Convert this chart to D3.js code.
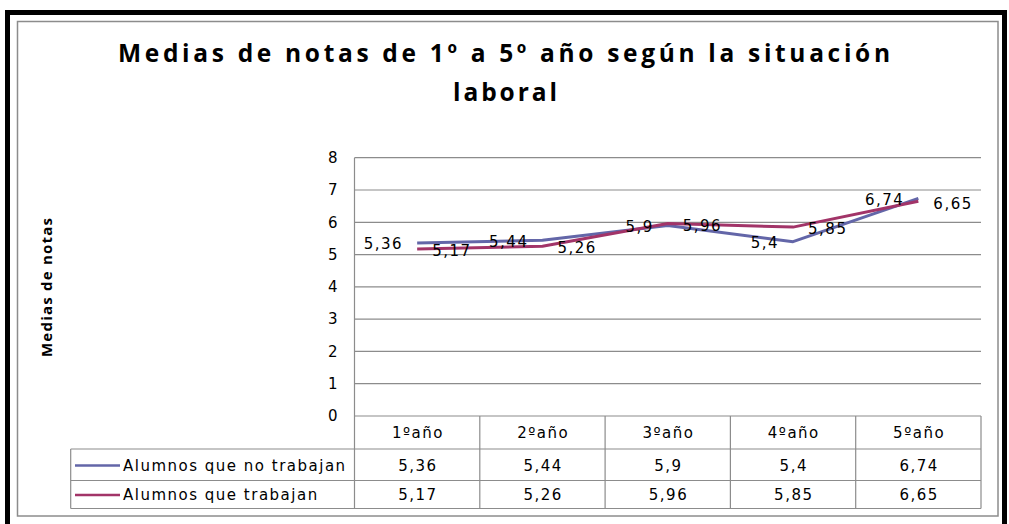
<!DOCTYPE html>
<html><head><meta charset="utf-8">
<script src="https://cdn.jsdelivr.net/npm/d3@7"></script>
<style>
html,body{margin:0;padding:0;background:#fff;}
svg{display:block;}
</style></head>
<body>
<svg id="chart" width="1009" height="524"></svg>
<script>
const categories = ["1ºaño","2ºaño","3ºaño","4ºaño","5ºaño"];
const seriesNames = ["Alumnos que no trabajan","Alumnos que trabajan"];
const noTrabajan = [5.36, 5.44, 5.9, 5.4, 6.74];
const trabajan = [5.17, 5.26, 5.96, 5.85, 6.65];
const yTicks = [0,1,2,3,4,5,6,7,8];
const seriesColors = ["#6366A8", "#A23468"];
const titleLines = ["Medias de notas de 1º a 5º año según la situación", "laboral"];
const yTitle = "Medias de notas";

const series = [
  {name: seriesNames[0], values: noTrabajan, color: seriesColors[0], side: "left"},
  {name: seriesNames[1], values: trabajan, color: seriesColors[1], side: "right"}
];

const svg = d3.select("#chart");
const fmt = v => String(v).replace(".", ",");

// frames
svg.append("rect").attr("x",7.5).attr("y",12.5).attr("width",997).attr("height",520)
  .attr("fill","none").attr("stroke","#000").attr("stroke-width",5);
svg.append("rect").attr("x",17.5).attr("y",21.5).attr("width",980.5).attr("height",494.5)
  .attr("fill","#fff").attr("stroke","#8c8c8c").attr("stroke-width",1.5);

const pL = 354.5, pR = 981, pT = 157.7, pB = 416;
const x = d3.scaleBand().domain(categories).range([pL, pR]);
const y = d3.scaleLinear().domain([0, 8]).range([pB, pT]);

// title
const tfont = "'Open Sans', 'DejaVu Sans', sans-serif";
svg.append("text").attr("x",504).attr("y",62).attr("text-anchor","middle")
  .attr("font-family",tfont).attr("font-weight","bold").attr("font-size",24.5)
  .attr("textLength",772).attr("lengthAdjust","spacing")
  .attr("fill","#000").text(titleLines[0]);
svg.append("text").attr("x",505).attr("y",100.5).attr("text-anchor","middle")
  .attr("font-family",tfont).attr("font-weight","bold").attr("font-size",24.5)
  .attr("textLength",104).attr("lengthAdjust","spacing")
  .attr("fill","#000").text(titleLines[1]);

// y title
svg.append("text").attr("transform","translate(52,287.5) rotate(-90)")
  .attr("text-anchor","middle").attr("font-family",tfont).attr("font-weight","bold")
  .attr("font-size",15).attr("textLength",139).attr("lengthAdjust","spacing")
  .attr("fill","#000").text(yTitle);

const gridColor = "#8c8c8c";
// gridlines
svg.append("g").selectAll("line").data(yTicks).join("line")
  .attr("x1",pL).attr("x2",pR)
  .attr("y1",d=>y(d)).attr("y2",d=>y(d))
  .attr("stroke",gridColor).attr("stroke-width",1.2);

// y axis
const yAxis = d3.axisLeft(y).tickValues(yTicks).tickSize(0).tickPadding(17).tickFormat(d3.format("d"));
const ya = svg.append("g").attr("transform",`translate(${pL},0)`).call(yAxis);
ya.select(".domain").remove();
ya.selectAll("text").attr("font-family","'DejaVu Sans', sans-serif").attr("font-size",15).attr("fill","#000");

const font = "'DejaVu Sans', sans-serif";
const rowTop = pB, headerBottom = 449, row1Bottom = 480.5, row2Bottom = 508.5;
const legendLeft = 70.7;

// table lines
const tg = svg.append("g").attr("stroke",gridColor).attr("stroke-width",1.2);
tg.append("line").attr("x1",pL).attr("x2",pL).attr("y1",pT).attr("y2",row2Bottom);
categories.forEach(c => {
  const xr = x(c) + x.bandwidth();
  tg.append("line").attr("x1",xr).attr("x2",xr).attr("y1",rowTop).attr("y2",row2Bottom);
});
[headerBottom, row1Bottom, row2Bottom].forEach(yy => {
  tg.append("line").attr("x1",legendLeft).attr("x2",pR).attr("y1",yy).attr("y2",yy);
});
tg.append("line").attr("x1",legendLeft).attr("x2",legendLeft).attr("y1",headerBottom).attr("y2",row2Bottom);

// header labels
svg.append("g").selectAll("text").data(categories).join("text")
  .attr("x",d=>x(d)+x.bandwidth()/2+0.75).attr("y",433).attr("dy","0.35em")
  .attr("text-anchor","middle").attr("font-family",font).attr("font-size",15)
  .attr("letter-spacing",1.5).attr("fill","#000").text(d=>d);

// table values
const rowCenters = [465.5, 495];
series.forEach((s, si) => {
  svg.append("g").selectAll("text").data(s.values).join("text")
    .attr("x",(d,i)=>x(categories[i])+x.bandwidth()/2+0.75).attr("y",rowCenters[si]).attr("dy","0.35em")
    .attr("text-anchor","middle").attr("font-family",font).attr("font-size",15)
    .attr("letter-spacing",1.5).attr("fill","#000").text(d=>fmt(d));
  svg.append("line").attr("x1",75).attr("x2",120).attr("y1",rowCenters[si]).attr("y2",rowCenters[si])
    .attr("stroke",s.color).attr("stroke-width",2.5);
  svg.append("text").attr("x",123).attr("y",rowCenters[si]).attr("dy","0.35em")
    .attr("font-family",font).attr("font-size",15).attr("letter-spacing",1.5)
    .attr("fill","#000").text(s.name);
});

// lines
const line = d3.line().x((d,i)=>x(categories[i])+x.bandwidth()/2).y(d=>y(d));
series.forEach(s => {
  svg.append("path").datum(s.values).attr("d",line).attr("fill","none")
    .attr("stroke",s.color).attr("stroke-width",3).attr("stroke-linejoin","round");
});

// data labels
series.forEach(s => {
  svg.append("g").selectAll("text").data(s.values).join("text")
    .attr("x",(d,i)=>x(categories[i])+x.bandwidth()/2 + (s.side==="left" ? -14 : 15))
    .attr("y",d=>y(d) + (s.side==="left" ? 1 : 2)).attr("dy","0.35em")
    .attr("text-anchor", s.side==="left" ? "end" : "start")
    .attr("font-family",font).attr("font-size",15).attr("letter-spacing",1.5)
    .attr("fill","#000").text(d=>fmt(d));
});
</script>
</body></html>
